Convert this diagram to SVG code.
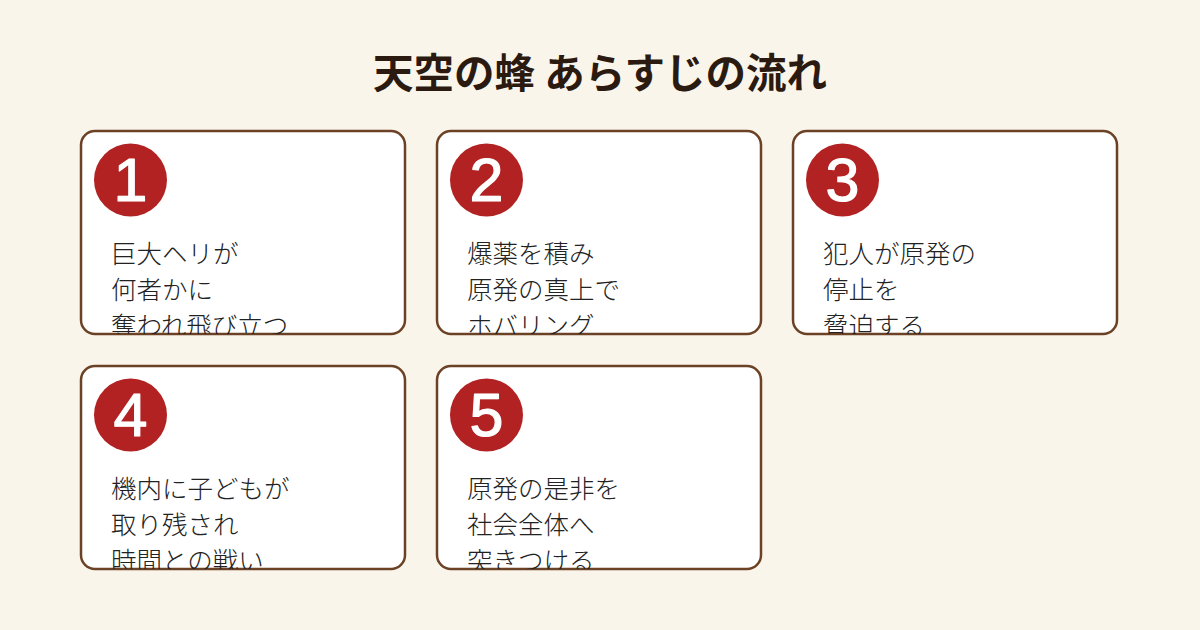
<svg xmlns="http://www.w3.org/2000/svg" width="1200" height="630" viewBox="0 0 1200 630">
<defs>
<style>
.card{fill:#ffffff;stroke:#6b4226;stroke-width:2.5}
.badge{fill:#b22222}
.num{fill:#ffffff;stroke:#ffffff;stroke-width:1.2;stroke-linejoin:round;font-family:"Liberation Sans",Arial,sans-serif;font-weight:400;font-size:61px;text-anchor:middle}
.body{fill:#222222;font-family:"Noto Sans CJK JP",sans-serif;font-weight:300;font-size:25.5px}
.title{fill:#2b1a10;font-family:"Noto Sans CJK JP",sans-serif;font-weight:700;font-size:40.5px;text-anchor:middle}
</style>
<clipPath id="c1"><rect x="81" y="131" width="324" height="203" rx="14"/></clipPath>
<clipPath id="c2"><rect x="437" y="131" width="324" height="203" rx="14"/></clipPath>
<clipPath id="c3"><rect x="793" y="131" width="324" height="203" rx="14"/></clipPath>
<clipPath id="c4"><rect x="81" y="366" width="324" height="203" rx="14"/></clipPath>
<clipPath id="c5"><rect x="437" y="366" width="324" height="203" rx="14"/></clipPath>
</defs>
<rect width="1200" height="630" fill="#faf5ea"/>
<text class="title" x="600" y="88">天空の蜂 あらすじの流れ</text>
<g id="connectors"></g>
<g id="node1">
<rect class="card" x="81" y="131" width="324" height="203" rx="14"/>
<g clip-path="url(#c1)"><text class="body"><tspan x="111" y="263">巨大ヘリが</tspan><tspan x="111" y="299">何者かに</tspan><tspan x="111" y="335">奪われ飛び立つ</tspan></text></g>
<circle class="badge" cx="130.5" cy="180" r="36.5"/>
<text class="num" x="130.5" y="201">1</text>
</g>
<g id="node2">
<rect class="card" x="437" y="131" width="324" height="203" rx="14"/>
<g clip-path="url(#c2)"><text class="body"><tspan x="467" y="263">爆薬を積み</tspan><tspan x="467" y="299">原発の真上で</tspan><tspan x="467" y="335">ホバリング</tspan></text></g>
<circle class="badge" cx="486.5" cy="180" r="36.5"/>
<text class="num" x="486.5" y="201">2</text>
</g>
<g id="node3">
<rect class="card" x="793" y="131" width="324" height="203" rx="14"/>
<g clip-path="url(#c3)"><text class="body"><tspan x="823" y="263">犯人が原発の</tspan><tspan x="823" y="299">停止を</tspan><tspan x="823" y="335">脅迫する</tspan></text></g>
<circle class="badge" cx="842.5" cy="180" r="36.5"/>
<text class="num" x="842.5" y="201">3</text>
</g>
<g id="node4">
<rect class="card" x="81" y="366" width="324" height="203" rx="14"/>
<g clip-path="url(#c4)"><text class="body"><tspan x="111" y="498">機内に子どもが</tspan><tspan x="111" y="534">取り残され</tspan><tspan x="111" y="570">時間との戦い</tspan></text></g>
<circle class="badge" cx="130.5" cy="415" r="36.5"/>
<text class="num" x="130.5" y="436">4</text>
</g>
<g id="node5">
<rect class="card" x="437" y="366" width="324" height="203" rx="14"/>
<g clip-path="url(#c5)"><text class="body"><tspan x="467" y="498">原発の是非を</tspan><tspan x="467" y="534">社会全体へ</tspan><tspan x="467" y="570">突きつける</tspan></text></g>
<circle class="badge" cx="486.5" cy="415" r="36.5"/>
<text class="num" x="486.5" y="436">5</text>
</g>
</svg>
